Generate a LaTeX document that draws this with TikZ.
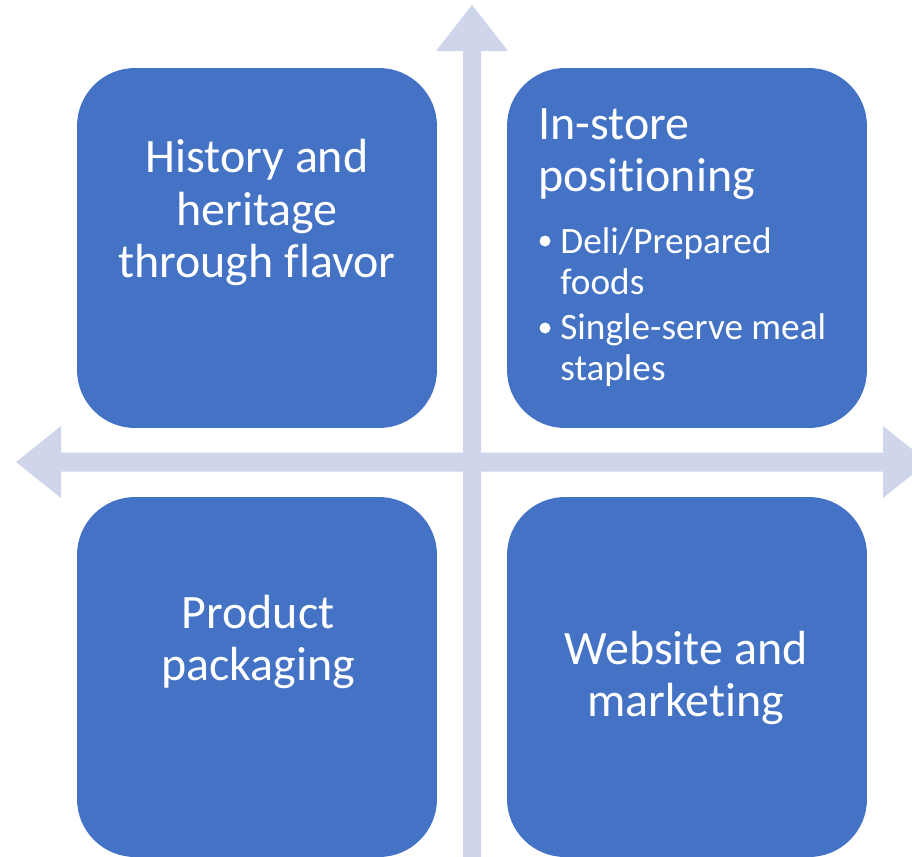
\documentclass[tikz,border=0pt]{standalone}
\usepackage{fontspec}
\setmainfont{Carlito}[Ligatures=NoCommon]
\usepackage{tikz}
\usetikzlibrary{calc, positioning}

\definecolor{quadblue}{HTML}{4472C4}
\definecolor{axisgray}{HTML}{CFD5EA}

\begin{document}
\begin{tikzpicture}[x=0.02cm, y=-0.02cm,
  quad/.style={rectangle, fill=quadblue, minimum size=7.2cm, rounded corners=1.16cm, inner sep=0pt},
  axis/.style={fill=axisgray},
  txt/.style={text=white, align=center, inner sep=0pt, font=\fontsize{27.3}{29.6}\selectfont},
  subtxt/.style={text=white, align=left, inner sep=0pt, font=\fontsize{21.2}{22.8}\selectfont},
  dotmark/.style={circle, fill=white, inner sep=0pt, minimum size=0.22cm}]
\useasboundingbox (0,0) rectangle (912,856);
\clip (0,0) rectangle (912,856);
% the two axes
\fill[axis] (472,5) -- (508,51) -- (481,51) -- (481,870) -- (463,870) -- (463,51) -- (436,51) -- cycle;
\fill[axis] (16,462) -- (61,426) -- (61,452.5) -- (883,452.5) -- (883,426) -- (928,462)
  -- (883,498) -- (883,471.5) -- (61,471.5) -- (61,498) -- cycle;
% four quadrants
\node[quad] (hist) at (257,248) {};
\node[quad] (store) at (687,248) {};
\node[quad] (pack) at (257,677) {};
\node[quad] (web) at (687,677) {};
% texts (base = last line)
\node[txt, anchor=base] (histtxt) at (257,277) {History and\\heritage\\through flavor};
\node[txt, anchor=base west, align=left] (storetxt) at (538,191) {In-store\\positioning};
\node[dotmark] (dot1) at (545,241) {};
\node[subtxt, anchor=base west] (item1) at (560,294) {Deli/Prepared\\foods};
\node[dotmark] (dot2) at (545,328) {};
\node[subtxt, anchor=base west] (item2) at (560,380) {Single-serve meal\\staples};
\node[txt, anchor=base] (packtxt) at (258,680) {Product\\packaging};
\node[txt, anchor=base] (webtxt) at (686,716) {Website and\\marketing};
\end{tikzpicture}
\end{document}
